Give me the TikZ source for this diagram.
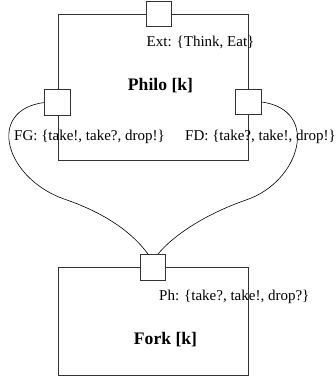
\documentclass[tikz,border=0pt]{standalone}
\usepackage{fontspec}
\setmainfont{Liberation Serif}
\begin{document}
\begin{tikzpicture}[x=1pt,y=-1pt,
  comp/.style={draw=black!80,line width=0.8pt,minimum width=190pt,inner sep=0},
  port/.style={draw=black!80,fill=white,line width=0.8pt,minimum size=25.5pt,inner sep=0},
  lbl/.style={inner sep=0,anchor=base west,font=\fontsize{15}{18}\selectfont},
  title/.style={inner sep=0,anchor=base,font=\fontsize{17.6}{20}\selectfont\bfseries}]
  \useasboundingbox (0,0) rectangle (336,383);
  \node[comp,minimum height=146pt] (philo) at (153,87) {};
  \node[comp,minimum height=108pt] (fork) at (153,321) {};
  \node[port] (ext) at (159,14) {};
  \node[port] (fg) at (57.5,102.5) {};
  \node[port] (fd) at (248.5,102) {};
  \node[port] (ph) at (153,267.5) {};
  \node[title] (philoname) at (160.5,90) {Philo [k]};
  \node[title] (forkname) at (165.5,344) {Fork [k]};
  \node[lbl] (extlbl) at (146.5,46.5) {Ext: \{Think, Eat\}};
  \node[lbl] (fglbl) at (14,140.5) {FG: \{take!, take?, drop!\}};
  \node[lbl] (fdlbl) at (185,140.5) {FD: \{take?, take!, drop!\}};
  \node[lbl] (phlbl) at (159,300.5) {Ph: \{take?, take!, drop?\}};
  \coordinate (lmid) at (67,200);
  \coordinate (rmid) at (246,200);
  \draw[line width=0.6pt] (fg.west) .. controls (-15,110) and (5,180) .. (lmid)
    .. controls (115,217) and (137,239) .. (ph.110);
  \draw[line width=0.6pt] (fd.east) .. controls (321,110) and (300,182) .. (rmid)
    .. controls (200,216) and (170,239) .. (ph.70);
\end{tikzpicture}
\end{document}
